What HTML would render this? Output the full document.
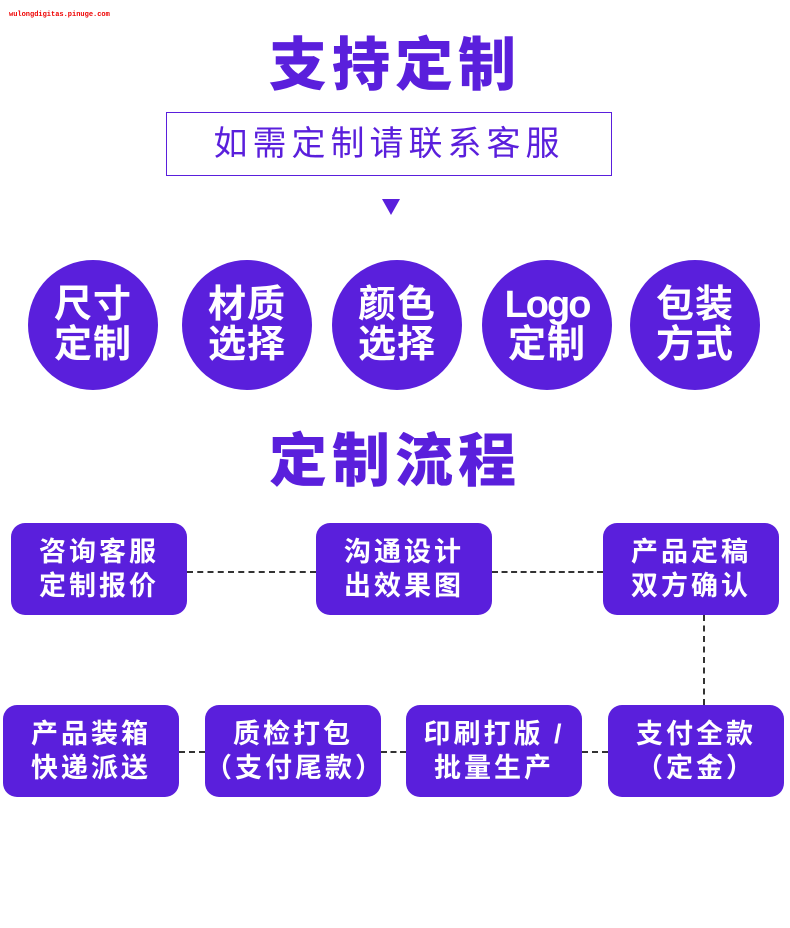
<!DOCTYPE html>
<html><head><meta charset="utf-8"><style>
body{margin:0;width:790px;height:928px;background:#fff;position:relative;overflow:hidden;font-family:"Liberation Sans","Noto Sans CJK SC",sans-serif}
.a{position:absolute}
.t{left:0;width:790px;text-align:center;color:#5a1fdc;font-weight:900;font-size:58px;letter-spacing:5px;line-height:60px}
.c{width:130px;height:130px;border-radius:50%;background:#5a1fdc;color:#fff;font-weight:700;font-size:38px;line-height:40px;text-align:center;display:flex;align-items:center;justify-content:center;letter-spacing:1px}
.b{width:176px;height:92px;border-radius:14px;background:#5a1fdc;color:#fff;font-weight:700;font-size:27px;line-height:34px;text-align:center;display:flex;align-items:center;justify-content:center;letter-spacing:3px}
.h{height:0;border-top:2px dashed #333}
.v{width:0;border-left:2px dashed #333}
</style></head><body>
<div class="a" style="left:9px;top:11px;font-size:7px;color:#e00;font-weight:700;font-family:'Liberation Mono',monospace">wulongdigitas.pinuge.com</div>
<div class="a t" style="top:36px">支持定制</div>
<div class="a" style="left:166px;top:112px;width:444px;height:62px;border:1px solid #5a1fdc;color:#5a1fdc;font-size:34px;line-height:62px;text-align:center;letter-spacing:5px">如需定制请联系客服</div>
<div class="a" style="left:382px;top:199px;width:0;height:0;border-left:9px solid transparent;border-right:9px solid transparent;border-top:16px solid #5a1fdc"></div>
<div class="a c" style="left:28px;top:260px">尺寸<br>定制</div>
<div class="a c" style="left:182px;top:260px">材质<br>选择</div>
<div class="a c" style="left:332px;top:260px">颜色<br>选择</div>
<div class="a c" style="left:482px;top:260px"><span><span style="letter-spacing:-2px">Logo</span><br>定制</span></div>
<div class="a c" style="left:630px;top:260px">包装<br>方式</div>
<div class="a t" style="top:432px">定制流程</div>
<div class="a h" style="left:187px;top:571px;width:129px"></div>
<div class="a h" style="left:492px;top:571px;width:111px"></div>
<div class="a v" style="left:703px;top:615px;height:90px"></div>
<div class="a h" style="left:179px;top:751px;width:26px"></div>
<div class="a h" style="left:381px;top:751px;width:25px"></div>
<div class="a h" style="left:582px;top:751px;width:26px"></div>
<div class="a b" style="left:11px;top:523px">咨询客服<br>定制报价</div>
<div class="a b" style="left:316px;top:523px">沟通设计<br>出效果图</div>
<div class="a b" style="left:603px;top:523px">产品定稿<br>双方确认</div>
<div class="a b" style="left:3px;top:705px">产品装箱<br>快递派送</div>
<div class="a b" style="left:205px;top:705px">质检打包<br>（支付尾款）</div>
<div class="a b" style="left:406px;top:705px">印刷打版 /<br>批量生产</div>
<div class="a b" style="left:608px;top:705px">支付全款<br>（定金）</div>
</body></html>
